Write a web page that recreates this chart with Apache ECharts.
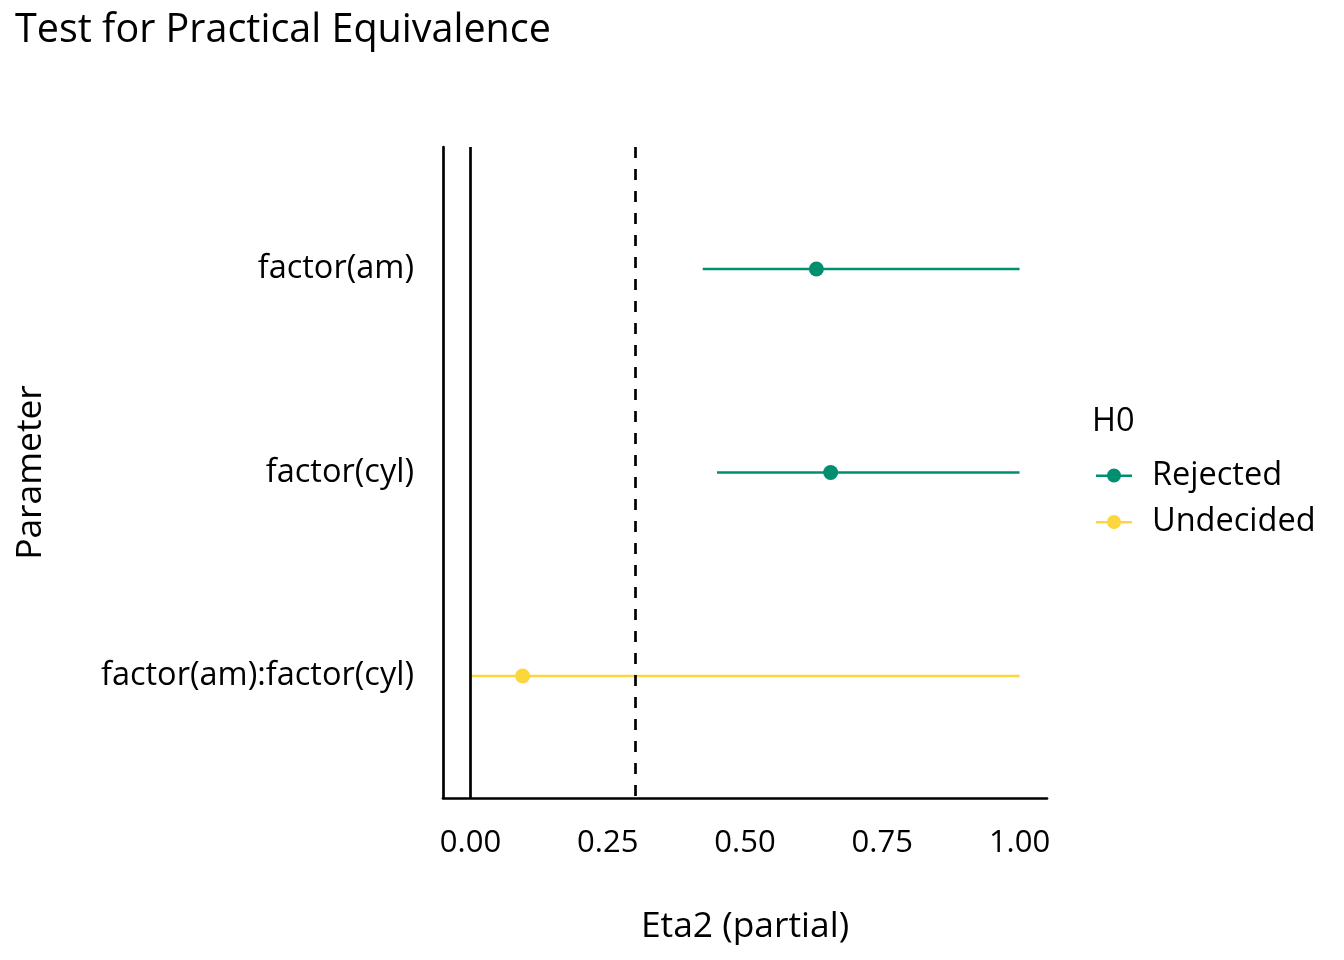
<!DOCTYPE html>
<html>
<head>
<meta charset="utf-8">
<script src="https://cdn.jsdelivr.net/npm/echarts@6/dist/echarts.min.js"></script>
<style>
  html, body { margin: 0; padding: 0; background: #fff; }
  #chart { width: 1344px; height: 960px; }
</style>
</head>
<body>
<div id="chart"></div>
<script>
// data
var params = ['factor(am)', 'factor(cyl)', 'factor(am):factor(cyl)'];
var estimate = [0.630, 0.656, 0.095];
var ciLow = [0.423, 0.449, 0.0];
var ciHigh = [1.0, 1.0, 1.0];
var h0 = ['Rejected', 'Rejected', 'Undecided'];
var groups = ['Rejected', 'Undecided'];
var xTicks = [0, 0.25, 0.5, 0.75, 1];
var rope = [0, 0.3];

var groupColor = { 'Rejected': '#00906f', 'Undecided': '#fbd63c' };
var font = 'Open Sans';
// line with a dot, for the legend keys
var keyIcon = 'path://M0,6H36V8.4H0Z M11,7A7,7 0 1,1 25,7A7,7 0 1,1 11,7Z';

var series = [];
params.forEach(function (p, i) {
    var y = i + 1;
    series.push({
        name: h0[i],
        type: 'line',
        color: groupColor[h0[i]],
        symbol: 'circle',
        symbolSize: 15,
        lineStyle: { width: 2.6, color: groupColor[h0[i]] },
        itemStyle: { color: groupColor[h0[i]] },
        silent: true,
        z: 3,
        data: [
            { value: [ciLow[i], y], symbol: 'none' },
            { value: [estimate[i], y] },
            { value: [ciHigh[i], y], symbol: 'none' }
        ]
    });
});

// zero line and ROPE limit
series.push({
    name: 'rope',
    type: 'line',
    data: [],
    silent: true,
    z: 2,
    markLine: {
        symbol: 'none',
        silent: true,
        label: { show: false },
        data: [
            { xAxis: rope[0], lineStyle: { color: '#000', width: 2.7, type: 'solid' } },
            { xAxis: rope[1], lineStyle: { color: '#000', width: 2.7, type: [11, 11] } }
        ]
    }
});

var option = {
    backgroundColor: '#fff',
    animation: false,
    textStyle: { fontFamily: font },
    title: [{
        text: 'Test for Practical Equivalence',
        left: 10,
        top: 6,
        textStyle: { fontFamily: font, fontSize: 39.5, fontWeight: 'normal', color: '#000' }
    }, {
        text: 'H0',
        left: 1087,
        top: 400,
        textStyle: { fontFamily: font, fontSize: 32.5, fontWeight: 'normal', color: '#000' }
    }],
    legend: {
        data: groups.map(function (g) { return { name: g, icon: keyIcon }; }),
        orient: 'vertical',
        left: 1096,
        top: 459,
        padding: 0,
        itemWidth: 36,
        itemHeight: 14,
        itemGap: 13.5,
        selectedMode: false,
        textStyle: { fontFamily: font, fontSize: 32.5, color: '#000', padding: [0, 0, 0, 15] }
    },
    grid: { left: 443, right: 297, top: 147, bottom: 162, containLabel: false },
    xAxis: {
        type: 'value',
        min: -0.05,
        max: 1.05,
        name: 'Eta2 (partial)',
        nameLocation: 'middle',
        nameGap: 111,
        nameTextStyle: { fontFamily: font, fontSize: 35.4, color: '#000' },
        axisLine: { show: true, onZero: false, lineStyle: { color: '#000', width: 2.7 } },
        axisTick: { show: false },
        splitLine: { show: false },
        axisLabel: {
            customValues: xTicks,
            margin: 30,
            fontFamily: font,
            fontSize: 31,
            color: '#000',
            formatter: function (v) { return v.toFixed(2); }
        }
    },
    yAxis: {
        type: 'value',
        min: 0.4,
        max: 3.6,
        inverse: true,
        name: 'Parameter',
        nameLocation: 'middle',
        nameRotate: 90,
        nameGap: 395,
        nameTextStyle: { fontFamily: font, fontSize: 35.4, color: '#000' },
        axisLine: { show: true, onZero: false, lineStyle: { color: '#000', width: 2.7 } },
        axisTick: { show: false },
        splitLine: { show: false },
        axisLabel: {
            customValues: [1, 2, 3],
            margin: 29,
            fontFamily: font,
            fontSize: 32.5,
            color: '#000',
            formatter: function (v) { return params[Math.round(v) - 1]; }
        }
    },
    series: series
};

var myChart = echarts.init(document.getElementById('chart'));
myChart.setOption(option);
</script>
</body>
</html>
